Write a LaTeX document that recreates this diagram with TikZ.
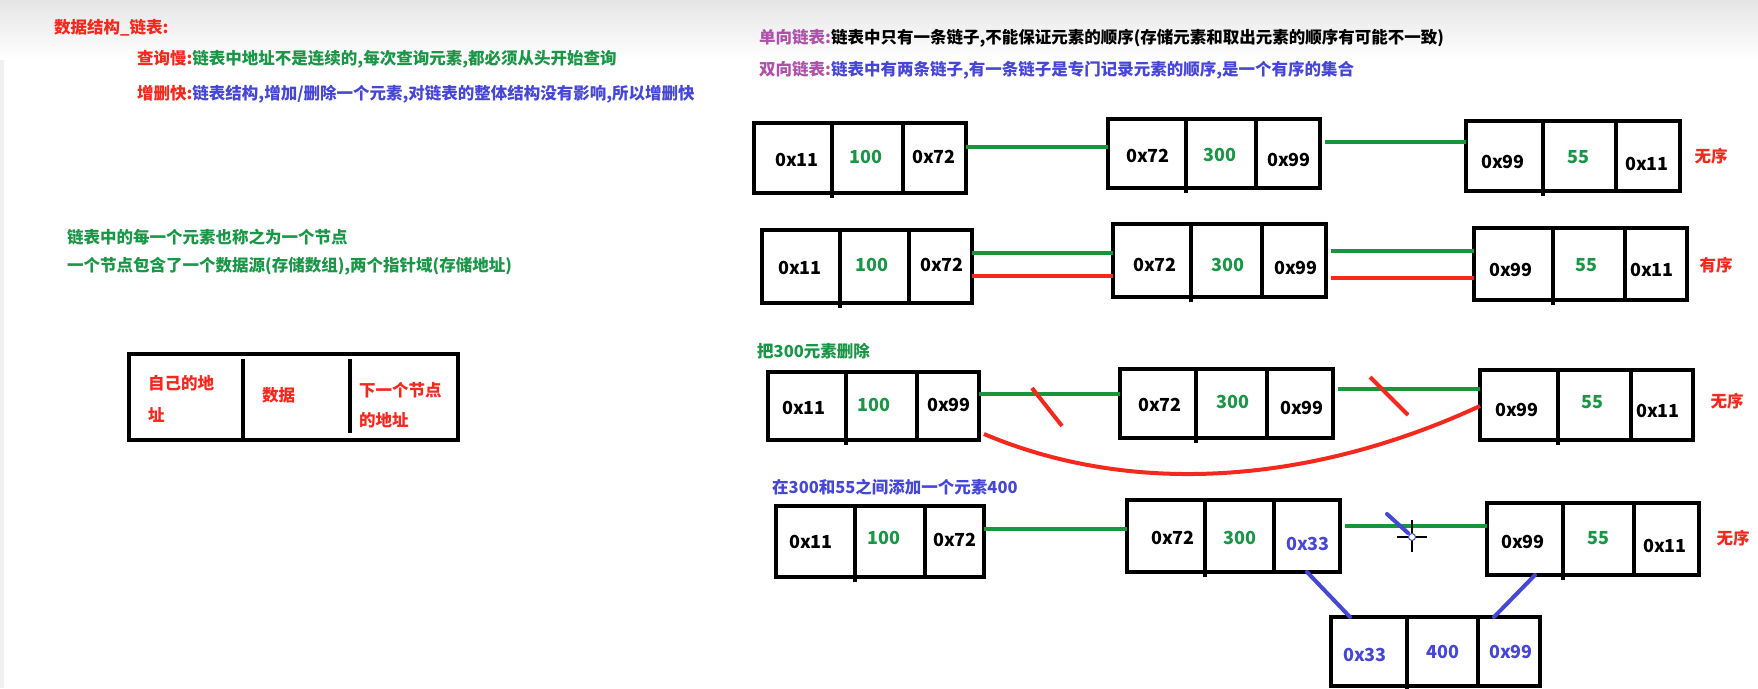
\documentclass[tikz,border=0pt]{standalone}
\usepackage{fontspec}
\setmainfont{Noto Sans CJK SC}
\usetikzlibrary{calc}
\definecolor{cred}{RGB}{245,40,30}
\definecolor{cgreen}{RGB}{25,150,70}
\definecolor{lgreen}{RGB}{25,150,60}
\definecolor{cblue}{RGB}{70,70,215}
\definecolor{cpurple}{RGB}{175,80,170}
\newcommand\llbox[7]{%
  \node[cell, minimum width={(#4-#2)*1pt}, minimum height={(#5-#3)*1pt}] (#1) at (#2,#3) {};
  \draw[divline] (#6,#3) -- (#6,#5+5);
  \draw[divline] (#7,#3) -- (#7,#5);
}
\begin{document}
\begin{tikzpicture}[x=1pt,y=-1pt,
  font=\fontsize{16.5}{20}\selectfont\bfseries,
  txt/.style={anchor=west, inner sep=0pt},
  ctxt/.style={anchor=center, inner sep=0pt, font=\fontsize{18}{20}\selectfont\bfseries},
  cell/.style={draw, line width=4pt, inner sep=0pt, outer sep=0pt, anchor=north west},
  divline/.style={line width=3.5pt},
  gline/.style={draw=lgreen, line width=4pt},
  rline/.style={draw=cred, line width=4pt},
  bline/.style={draw=cblue, line width=4pt, line cap=round}]
\useasboundingbox (0,0) rectangle (1758,688);
\shade[top color=black!10, bottom color=white] (0,0) rectangle (1758,60);
\fill[blue!10!black!6] (0,60) rectangle (4,688);

% ---------- left part ----------
\node[txt, text=cred] (title) at (54,28) {数据结构\_链表:};
\node[txt] (l1) at (137,59) {\color{cred}查询慢:\color{cgreen}链表中地址不是连续的,每次查询元素,都必须从头开始查询};
\node[txt] (l2) at (137,94) {\color{cred}增删快:\color{cblue}链表结构,增加/删除一个元素,对链表的整体结构没有影响,所以增删快};
\node[txt, text=cgreen] (l3) at (67,237) {链表中的每一个元素也称之为一个节点};
\node[txt, text=cgreen] (l4) at (67,266) {一个节点包含了一个数据源(存储数组),两个指针域(存储地址)};

\node[cell, minimum width=329pt, minimum height=86pt] (nd) at (129,354) {};
\draw[divline] (243,359) -- (243,440);
\draw[divline] (350,359) -- (350,433);
\node[txt, text=cred] (nd1) at (148,383) {自己的地};
\node[txt, text=cred] (nd2) at (148,415) {址};
\node[txt, text=cred] (nd3) at (262,395) {数据};
\node[txt, text=cred] (nd4) at (359,390) {下一个节点};
\node[txt, text=cred] (nd5) at (359,420) {的地址};

% ---------- right headers ----------
\node[txt] (h1) at (759,38) {\color{cpurple}单向链表:\color{black}链表中只有一条链子,不能保证元素的顺序(存储元素和取出元素的顺序有可能不一致)};
\node[txt] (h2) at (759,70) {\color{cpurple}双向链表:\color{cblue}链表中有两条链子,有一条链子是专门记录元素的顺序,是一个有序的集合};

% ---------- row 1 ----------
\llbox{ra}{754}{123}{966}{193}{832}{903}
\llbox{rb}{1108}{119}{1320}{188}{1186}{1256}
\llbox{rc}{1466}{121}{1680}{191}{1543}{1616}
\node[ctxt] (ra1) at (797,160) {0x11};
\node[ctxt, text=cgreen] (ra2) at (866,157) {100};
\node[ctxt] (ra3) at (934,157) {0x72};
\node[ctxt] (rb1) at (1148,156) {0x72};
\node[ctxt, text=cgreen] (rb2) at (1220,155) {300};
\node[ctxt] (rb3) at (1289,160) {0x99};
\node[ctxt] (rc1) at (1503,162) {0x99};
\node[ctxt, text=cgreen] (rc2) at (1578,157) {55};
\node[ctxt] (rc3) at (1647,164) {0x11};
\node[txt, text=cred, anchor=center] (rw1) at (1711,156) {无序};
\draw[gline] (ra.east |- 0,147) -- (rb.west |- 0,147);
\draw[gline] ([xshift=5pt]rb.east |- 0,142) -- (rc.west |- 0,142);

% ---------- row 2 ----------
\llbox{sa}{762}{230}{972}{303}{840}{909}
\llbox{sb}{1113}{224}{1326}{297}{1191}{1262}
\llbox{sc}{1474}{228}{1687}{300}{1553}{1625}
\node[ctxt] (sa1) at (800,268) {0x11};
\node[ctxt, text=cgreen] (sa2) at (872,265) {100};
\node[ctxt] (sa3) at (942,265) {0x72};
\node[ctxt] (sb1) at (1155,265) {0x72};
\node[ctxt, text=cgreen] (sb2) at (1228,265) {300};
\node[ctxt] (sb3) at (1296,268) {0x99};
\node[ctxt] (sc1) at (1511,270) {0x99};
\node[ctxt, text=cgreen] (sc2) at (1586,265) {55};
\node[ctxt] (sc3) at (1652,270) {0x11};
\node[txt, text=cred, anchor=center] (sw1) at (1716,265) {有序};
\draw[gline] (sa.east |- 0,253) -- (sb.west |- 0,253);
\draw[rline] (sa.east |- 0,276) -- (sb.west |- 0,276);
\draw[gline] ([xshift=5pt]sb.east |- 0,251) -- (sc.west |- 0,251);
\draw[rline] ([xshift=5pt]sb.east |- 0,278) -- (sc.west |- 0,278);

% ---------- row 3 ----------
\node[txt, text=cgreen] (u0) at (757,351) {把300元素删除};
\llbox{ua}{768}{372}{979}{440}{846}{917}
\llbox{ub}{1120}{369}{1333}{438}{1196}{1267}
\llbox{uc}{1480}{370}{1693}{440}{1558}{1631}
\node[ctxt] (ua1) at (804,408) {0x11};
\node[ctxt, text=cgreen] (ua2) at (874,405) {100};
\node[ctxt] (ua3) at (949,405) {0x99};
\node[ctxt] (ub1) at (1160,405) {0x72};
\node[ctxt, text=cgreen] (ub2) at (1233,402) {300};
\node[ctxt] (ub3) at (1302,408) {0x99};
\node[ctxt] (uc1) at (1517,410) {0x99};
\node[ctxt, text=cgreen] (uc2) at (1592,402) {55};
\node[ctxt] (uc3) at (1658,411) {0x11};
\node[txt, text=cred, anchor=center] (uw1) at (1727,401) {无序};
\draw[gline] (ua.east |- 0,394) -- (ub.west |- 0,394);
\draw[gline] ([xshift=5pt]ub.east |- 0,389) -- (uc.west |- 0,389);
\draw[rline] (1032,388) -- (1062,426);
\draw[rline] (1370,377) -- (1408,415);
\draw[rline] ($(ua.south east)+(5,-6)$) .. controls (1140,500) and (1320,480) .. (uc.west |- 0,406);

% ---------- row 4 ----------
\node[txt, text=cblue] (v0) at (772,487) {在300和55之间添加一个元素400};
\llbox{va}{776}{506}{984}{577}{855}{925}
\llbox{vb}{1127}{500}{1340}{572}{1205}{1274}
\llbox{vc}{1487}{503}{1699}{575}{1563}{1634}
\llbox{vd}{1331}{617}{1540}{686}{1407}{1478}
\node[ctxt] (va1) at (811,542) {0x11};
\node[ctxt, text=cgreen] (va2) at (884,538) {100};
\node[ctxt] (va3) at (955,540) {0x72};
\node[ctxt] (vb1) at (1173,538) {0x72};
\node[ctxt, text=cgreen] (vb2) at (1240,538) {300};
\node[ctxt, text=cblue] (vb3) at (1308,544) {0x33};
\node[ctxt] (vc1) at (1523,542) {0x99};
\node[ctxt, text=cgreen] (vc2) at (1598,538) {55};
\node[ctxt] (vc3) at (1665,546) {0x11};
\node[txt, text=cred, anchor=center] (vw1) at (1733,538) {无序};
\node[ctxt, text=cblue] (vd1) at (1365,655) {0x33};
\node[ctxt, text=cblue] (vd2) at (1443,652) {400};
\node[ctxt, text=cblue] (vd3) at (1511,652) {0x99};
\draw[gline] (va.east |- 0,529) -- (vb.west |- 0,529);
\draw[gline] ([xshift=5pt]vb.east |- 0,526) -- (vc.west |- 0,526);
\draw[bline] (vb.south -| 1307,0) -- (vd.north -| 1350,0);
\draw[bline] (vc.south -| 1535,0) -- (vd.north -| 1494,0);
\draw[bline] (1387,514) -- (1408,533);
% cursor
\draw[line width=1.3pt] (1412,520) -- (1412,552) (1397,537) -- (1427,537);
\draw[cblue, fill=white, line width=1pt] (1412,537) circle (3.5);
\end{tikzpicture}
\end{document}
